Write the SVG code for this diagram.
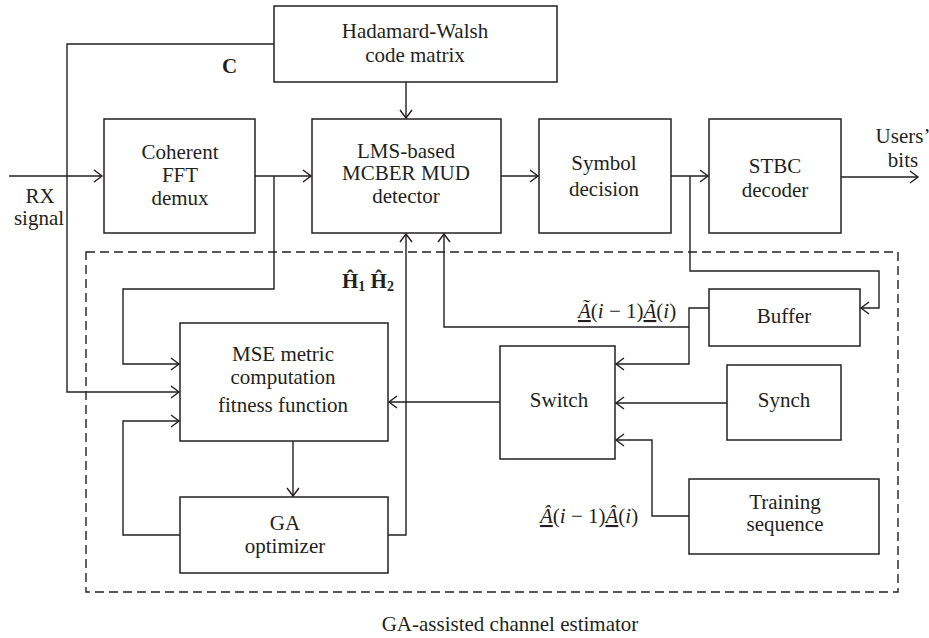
<svg xmlns="http://www.w3.org/2000/svg" width="929" height="638" viewBox="0 0 929 638">
<style>
.box{fill:none;stroke:#231f20;stroke-width:1.5}
.ar{fill:none;stroke:#231f20;stroke-width:1.4;marker-end:url(#arr)}
text{font-family:"Liberation Serif","Times New Roman",serif;fill:#231f20}
.t{font-size:21px;text-anchor:middle}
.m{font-size:21px}
.i{font-style:italic}
.b{font-size:21px;font-weight:bold}
.u{text-decoration:underline}
</style>
<defs>
<marker id="arr" markerUnits="userSpaceOnUse" markerWidth="12" markerHeight="14" viewBox="-10 -7 12 14" refX="0" refY="0" orient="auto">
<path d="M-8,-6 L0,0 L-8,6" fill="none" stroke="#231f20" stroke-width="1.4"/>
</marker>
</defs>
<rect width="929" height="638" fill="#fff"/>

<g id="estimator-boundary">
<rect x="86" y="252" width="812" height="340" fill="none" stroke="#231f20" stroke-width="1.4" stroke-dasharray="9,5"/>
</g>

<g id="connectors">
<polyline class="ar" points="9,176 102,176"/>
<polyline class="ar" points="274,44 67,44 67,392 179,392"/>
<polyline class="ar" points="255,176 311,176"/>
<polyline class="ar" points="274,176 274,289 123,289 123,364 179,364"/>
<polyline class="ar" points="406,82 406,118"/>
<polyline class="ar" points="501,176 538,176"/>
<polyline class="ar" points="671,176 708,176"/>
<polyline class="ar" points="690,176 690,271 879,271 879,308 861,308"/>
<polyline class="ar" points="841,177 918,177"/>
<polyline class="ar" points="709,308 689,308 689,364 616,364"/>
<polyline class="ar" points="689,327 444,327 444,234"/>
<polyline class="ar" points="727,403 616,403"/>
<polyline class="ar" points="689,516 652,516 652,440 616,440"/>
<polyline class="ar" points="500,402 389,402"/>
<polyline class="ar" points="293,441 293,496"/>
<polyline class="ar" points="180,535 123,535 123,421 179,421"/>
<polyline class="ar" points="388,535 406,535 406,234"/>
</g>

<g id="hadamard">
<rect class="box" x="274" y="6" width="283" height="76"/>
<text class="t" x="415" y="38">Hadamard-Walsh</text>
<text class="t" x="415" y="62">code matrix</text>
</g>
<g id="coherent-fft">
<rect class="box" x="104" y="119" width="151" height="114"/>
<text class="t" x="180" y="159">Coherent</text>
<text class="t" x="180" y="182">FFT</text>
<text class="t" x="180" y="205">demux</text>
</g>
<g id="lms-detector">
<rect class="box" x="312" y="119" width="189" height="114"/>
<text class="t" x="406" y="158">LMS-based</text>
<text class="t" x="406" y="180">MCBER MUD</text>
<text class="t" x="406" y="203">detector</text>
</g>
<g id="symbol-decision">
<rect class="box" x="539" y="119" width="132" height="114"/>
<text class="t" x="604" y="170">Symbol</text>
<text class="t" x="604" y="196">decision</text>
</g>
<g id="stbc-decoder">
<rect class="box" x="709" y="119" width="132" height="114"/>
<text class="t" x="775" y="173">STBC</text>
<text class="t" x="775" y="197">decoder</text>
</g>
<g id="buffer">
<rect class="box" x="709" y="289" width="151" height="57"/>
<text class="t" x="784" y="323">Buffer</text>
</g>
<g id="switch">
<rect class="box" x="500" y="346" width="115" height="113"/>
<text class="t" x="559" y="407">Switch</text>
</g>
<g id="synch">
<rect class="box" x="727" y="365" width="114" height="75"/>
<text class="t" x="784" y="407">Synch</text>
</g>
<g id="training">
<rect class="box" x="689" y="479" width="190" height="75"/>
<text class="t" x="785" y="509">Training</text>
<text class="t" x="785" y="531">sequence</text>
</g>
<g id="mse">
<rect class="box" x="180" y="323" width="208" height="118"/>
<text class="t" x="283" y="361">MSE metric</text>
<text class="t" x="283" y="384">computation</text>
<text class="t" x="283" y="412">fitness function</text>
</g>
<g id="ga">
<rect class="box" x="180" y="497" width="208" height="76"/>
<text class="t" x="285" y="530">GA</text>
<text class="t" x="285" y="553">optimizer</text>
</g>

<g id="labels">
<text class="t" x="40" y="203">RX</text>
<text class="t" x="39" y="225">signal</text>
<text class="t" x="903" y="143">Users’</text>
<text class="t" x="903" y="167">bits</text>
<text class="b" x="222" y="73">C</text>
<text class="b" x="342" y="288">Ĥ<tspan font-size="14" dy="3">1</tspan><tspan dy="-3"> Ĥ</tspan><tspan font-size="14" dy="3">2</tspan></text>
<text class="m" x="578" y="318"><tspan class="u i">Ã</tspan>(<tspan class="i">i</tspan> − 1)<tspan class="u i">Ã</tspan>(<tspan class="i">i</tspan>)</text>
<text class="m" x="540" y="523"><tspan class="u i">Â</tspan>(<tspan class="i">i</tspan> − 1)<tspan class="u i">Â</tspan>(<tspan class="i">i</tspan>)</text>
<text class="t" x="510" y="631">GA-assisted channel estimator</text>
</g>
</svg>
